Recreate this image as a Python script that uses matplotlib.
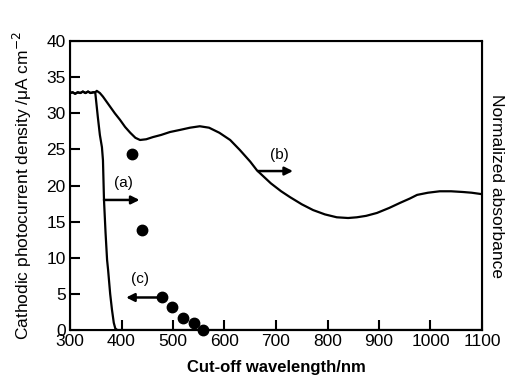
import matplotlib
matplotlib.use("Agg")
import matplotlib.pyplot as plt

plt.rcParams['font.family'] = ['Liberation Sans', 'DejaVu Sans']

# Curve (b): normalized absorbance (plotted on left scale)
b_nm = [300, 305, 310, 315, 320, 325, 330, 335, 340, 345, 349, 352, 358, 364, 371, 378,
        387, 397, 407, 417, 427, 436, 448, 461, 477, 494, 514, 533, 552, 570, 590, 611,
        630, 650, 663, 690, 710, 727, 750, 772, 795, 818, 840, 857, 875, 896, 920, 941,
        960, 974, 995, 1018, 1040, 1063, 1080, 1100]
b_val = [32.8, 32.9, 32.7, 32.9, 32.8, 33.0, 32.8, 33.0, 32.8, 32.9, 32.9, 33.1, 32.8, 32.3, 31.6, 30.9,
         30.0, 29.1, 28.1, 27.3, 26.6, 26.3, 26.4, 26.7, 27.0, 27.4, 27.7, 28.0, 28.2, 28.0, 27.3, 26.3,
         24.9, 23.3, 22.1, 20.3, 19.2, 18.4, 17.4, 16.6, 16.0, 15.6, 15.5, 15.6, 15.8, 16.2, 16.9, 17.6,
         18.2, 18.7, 19.0, 19.2, 19.2, 19.1, 19.0, 18.8]

# Curve (a): photocurrent with cut-off filter
a_nm = [300, 305, 310, 315, 320, 325, 330, 335, 340, 345, 349, 354, 358, 362, 364, 366,
        369, 372, 374, 378, 381.5, 385, 388, 392, 1100]
a_val = [32.8, 32.9, 32.7, 32.9, 32.8, 33.0, 32.8, 33.0, 32.8, 32.9, 32.9, 29.5, 27.0, 25.3, 23.5, 18.0,
         13.5, 9.7, 8.3, 5.0, 2.8, 1.0, 0.2, 0.0, 0.0]

# Points (c)
c_nm = [420, 439, 479, 499, 520, 540, 559]
c_val = [24.4, 13.8, 4.5, 3.2, 1.6, 0.9, 0.0]

x_ticks = [300, 400, 500, 600, 700, 800, 900, 1000, 1100]
y_ticks = [0, 5, 10, 15, 20, 25, 30, 35, 40]

fig = plt.figure(figsize=(5.06, 3.84), dpi=100)
ax = fig.add_axes([70/506, 1-330/384, (482-70)/506, (330-41)/384])

ax.plot(b_nm, b_val, color='black', lw=1.6)
ax.plot(a_nm, a_val, color='black', lw=1.6)
ax.plot(c_nm, c_val, 'o', color='black', ms=7.5, clip_on=False, zorder=5)

arrow_kw = dict(arrowstyle='-|>', color='black', lw=1.8, mutation_scale=12, shrinkA=0, shrinkB=0)
ax.annotate('', xy=(435, 18.0), xytext=(366, 18.0), arrowprops=arrow_kw)
ax.annotate('', xy=(733, 22.0), xytext=(665, 22.0), arrowprops=arrow_kw)
ax.annotate('', xy=(409, 4.5), xytext=(479, 4.5), arrowprops=arrow_kw)
ax.text(403, 20.3, '(a)', fontsize=11, ha='center', va='center')
ax.text(706, 24.2, '(b)', fontsize=11, ha='center', va='center')
ax.text(436, 7.1, '(c)', fontsize=11, ha='center', va='center')

ax.set_xlim(300, 1100)
ax.set_ylim(0, 40)
ax.set_xticks(x_ticks)
ax.set_yticks(y_ticks)
ax.tick_params(direction='in', length=7, width=1.5, labelsize=12.5, pad=3)
ax.tick_params(axis='x', pad=3)
for s in ax.spines.values():
    s.set_linewidth(1.5)

ax.set_xlabel('Cut-off wavelength/nm', fontsize=12, fontweight='bold', labelpad=8)
ax.set_ylabel('Cathodic photocurrent density /\u03bcA cm$^{-2}$', fontsize=12.5, labelpad=9)
ax2 = ax.twinx()
ax2.set_yticks([])
ax2.set_ylabel('Normalized absorbance', fontsize=12.5, rotation=270, labelpad=16)

fig.savefig('out.png', dpi=100)
